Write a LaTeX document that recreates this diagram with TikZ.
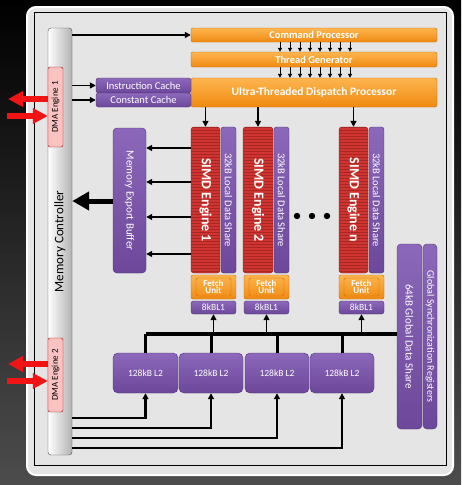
\documentclass[tikz,border=0pt]{standalone}
\usepackage{fontspec}
\setmainfont{Carlito}
\usetikzlibrary{arrows.meta,patterns}
\definecolor{orangeL}{HTML}{FDB54E}
\definecolor{orangeC}{HTML}{F08A12}
\definecolor{orangeD}{HTML}{C86A08}
\definecolor{purpleL}{HTML}{8C68BA}
\definecolor{purpleC}{HTML}{6C479A}
\definecolor{purpleD}{HTML}{4E3174}
\definecolor{redC}{HTML}{CF3530}
\definecolor{redD}{HTML}{7E1414}
\definecolor{pinkC}{HTML}{FBC2C2}
\definecolor{arrRed}{HTML}{F01414}
\newcommand\fsz[1]{\fontsize{#1}{#1}\selectfont}

\begin{document}
\begin{tikzpicture}[x=1pt,y=-1pt]
\tikzset{
  orangebox/.style={draw=orangeD, top color=orangeL, bottom color=orangeC, rounded corners=2pt,
    text=white, font=\fsz{10.5}\bfseries, inner sep=0pt},
  purplebox/.style={draw=purpleD, top color=purpleL, bottom color=purpleC, rounded corners=2.5pt,
    text=white, font=\fsz{10.5}, inner sep=0pt},
  simdbox/.style={draw=redD, fill=redC, rounded corners=3pt,
    postaction={pattern=horizontal lines, pattern color=redD!45!redC}},
  fetchbox/.style={draw=orangeD, top color=orangeL, bottom color=orangeC, rounded corners=2pt,
    text=white, font=\fsz{9}\bfseries, align=center, inner sep=0pt,
    path picture={\draw[orangeD, rounded corners=1.5pt]
      ([shift={(5pt,-3pt)}]path picture bounding box.north west) rectangle
      ([shift={(-5pt,3pt)}]path picture bounding box.south east);}},
  dmabox/.style={draw=red!70!black, fill=pinkC, rounded corners=1.5pt},
  vtxt/.style={rotate=-90, text=white, font=\fsz{10.5}},
  utxt/.style={rotate=90, text=black, font=\fsz{9}},
  arr/.style={-{Triangle[length=6pt,width=6pt]}, line width=1.4pt},
  sarr/.style={-{Triangle[length=4pt,width=4pt]}, line width=1pt},
  bigarr/.style={-{Triangle[length=17pt,width=18pt]}, line width=5pt},
  redarr/.style={-{Triangle[length=15pt,width=15pt]}, line width=5.5pt, arrRed}
}
\useasboundingbox (0,0) rectangle (461,485);
% background and frame
\shade[top color=black, bottom color=black!70] (0,0) rectangle (461,485);
\fill[white!90!black, draw=white, line width=2pt, rounded corners=9pt] (27,7) rectangle (453,475);
\draw[line width=1pt] (34,12) rectangle (446,465);

% memory controller and dma
\node[draw=black!70, left color=white, right color=black!30, rounded corners=3pt,
  minimum width=24pt, minimum height=427pt, inner sep=0pt,
  label={[rotate=90, font=\fsz{13}]center:Memory Controller}] (mc) at (60,241.5) {};
\node[dmabox, minimum width=15pt, minimum height=80pt, inner sep=0pt,
  label={[utxt]center:DMA Engine 1}] (dma1) at (55.5,107) {};
\node[dmabox, minimum width=15pt, minimum height=74pt, inner sep=0pt,
  label={[utxt]center:DMA Engine 2}] (dma2) at (55.5,375) {};

% front end
\node[orangebox, minimum width=246pt, minimum height=14pt] (cp) at (314,35) {Command Processor};
\node[orangebox, minimum width=246pt, minimum height=15pt] (tg) at (314,59.5) {Thread Generator};
\node[orangebox, minimum width=246pt, minimum height=29pt, font=\fsz{11.5}\bfseries] (udp) at (314,92.5) {Ultra-Threaded Dispatch Processor};
\node[purplebox, minimum width=95pt, minimum height=15pt] (ic) at (143.5,85.5) {Instruction Cache};
\node[purplebox, minimum width=95pt, minimum height=14pt] (cc) at (143.5,100) {Constant Cache};

% simd engines
\node[purplebox, minimum width=33pt, minimum height=145pt, rounded corners=4pt,
  label={[vtxt, font=\fsz{11}]center:Memory Export Buffer}] (meb) at (129.5,200.5) {};
\node[simdbox, minimum width=29pt, minimum height=146pt,
  label={[vtxt, font=\fsz{14}\bfseries]center:SIMD Engine 1}] (simd1) at (205.5,200) {};
\node[purplebox, minimum width=15pt, minimum height=146pt,
  label={[vtxt]center:32kB Local Data Share}] (lds1) at (228.5,200) {};
\node[simdbox, minimum width=30pt, minimum height=146pt,
  label={[vtxt, font=\fsz{14}\bfseries]center:SIMD Engine 2}] (simd2) at (258,200) {};
\node[purplebox, minimum width=15pt, minimum height=146pt,
  label={[vtxt]center:32kB Local Data Share}] (lds2) at (281.5,200) {};
\node[simdbox, minimum width=29pt, minimum height=146pt,
  label={[vtxt, font=\fsz{14}\bfseries]center:SIMD Engine n}] (simdn) at (353.5,200) {};
\node[purplebox, minimum width=15pt, minimum height=146pt,
  label={[vtxt]center:32kB Local Data Share}] (ldsn) at (376.5,200) {};
\fill (297,216) circle (3.2) (312,216) circle (3.2) (327,216) circle (3.2);

\node[fetchbox, minimum width=45pt, minimum height=24pt] (fu1) at (213.5,287) {Fetch\\[-1.5pt]Unit};
\node[fetchbox, minimum width=45pt, minimum height=24pt] (fu2) at (266.5,287) {Fetch\\[-1.5pt]Unit};
\node[fetchbox, minimum width=45pt, minimum height=24pt] (fun) at (361.5,287) {Fetch\\[-1.5pt]Unit};
\node[purplebox, minimum width=45pt, minimum height=13pt, font=\fsz{9.5}] (l1a) at (213.5,307.5) {8kBL1};
\node[purplebox, minimum width=45pt, minimum height=13pt, font=\fsz{9.5}] (l1b) at (266.5,307.5) {8kBL1};
\node[purplebox, minimum width=45pt, minimum height=13pt, font=\fsz{9.5}] (l1n) at (361.5,307.5) {8kBL1};

% global share and L2
\node[purplebox, minimum width=25pt, minimum height=185pt, rounded corners=4pt,
  label={[vtxt, font=\fsz{11}]center:64kB Global Data Share}] (gds) at (409.5,336.5) {};
\node[purplebox, minimum width=14pt, minimum height=185pt, rounded corners=4pt,
  label={[vtxt, font=\fsz{10}]center:Global Synchronization Registers}] (gsr) at (430,336.5) {};
\node[purplebox, minimum width=65pt, minimum height=40pt, rounded corners=5pt, font=\fsz{9.5}] (l2a) at (145.5,373) {128kB L2};
\node[purplebox, minimum width=64pt, minimum height=40pt, rounded corners=5pt, font=\fsz{9.5}] (l2b) at (211,373) {128kB L2};
\node[purplebox, minimum width=64pt, minimum height=40pt, rounded corners=5pt, font=\fsz{9.5}] (l2c) at (277,373) {128kB L2};
\node[purplebox, minimum width=64pt, minimum height=40pt, rounded corners=5pt, font=\fsz{9.5}] (l2d) at (342,373) {128kB L2};

% connectors
\draw[arr] (mc.east |- cp.west) -- (cp.west);
\draw[arr] (mc.east |- ic.west) -- (ic.west);
\draw[arr] (mc.east |- cc.west) -- (cc.west);
\foreach \x in {280,290,...,350} {
  \draw[sarr] (\x,0 |- cp.south) -- (\x,0 |- tg.north);
  \draw[sarr] (\x,0 |- tg.south) -- (\x,0 |- udp.north);
}
\draw[arr] (udp.south -| simd1) -- (simd1.north);
\draw[arr] (udp.south -| simd2) -- (simd2.north);
\draw[arr] (udp.south -| simdn) -- (simdn.north);
\foreach \y in {148,182,217,254}
  \draw[arr] (simd1.west |- 0,\y) -- (meb.east |- 0,\y);
\draw[bigarr] (meb.west |- 0,201) -- (mc.east |- 0,201);

\draw[line width=3pt] (l2a.north) -- (l2a.north |- 0,334);
\draw[line width=4pt] (l2a.north |- 0,334) -- (gds.west |- 0,334);
\foreach \n in {l2b,l2c,l2d}
  \draw[line width=3pt] (\n.north) -- (\n.north |- 0,334);
\foreach \n in {l1a,l1b,l1n}
  \draw[arr] (\n.south |- 0,334) -- (\n.south);
\draw[arr, line width=2.5pt] (mc.east |- 0,418) -| (l2a.south);
\draw[arr, line width=2.5pt] (mc.east |- 0,428) -| (l2b.south);
\draw[arr, line width=2.5pt] (mc.east |- 0,438) -| (l2c.south);
\draw[arr, line width=2.5pt] (mc.east |- 0,448) -| (l2d.south);

% dma links
\coordinate (out1) at (8,99);
\coordinate (in1) at (7,116);
\coordinate (out2) at (8,364);
\coordinate (in2) at (7,381);
\draw[redarr] (dma1.west |- out1) -- (out1);
\draw[redarr] (in1) -- (dma1.west |- in1);
\draw[redarr] (dma2.west |- out2) -- (out2);
\draw[redarr] (in2) -- (dma2.west |- in2);
\end{tikzpicture}
\end{document}
